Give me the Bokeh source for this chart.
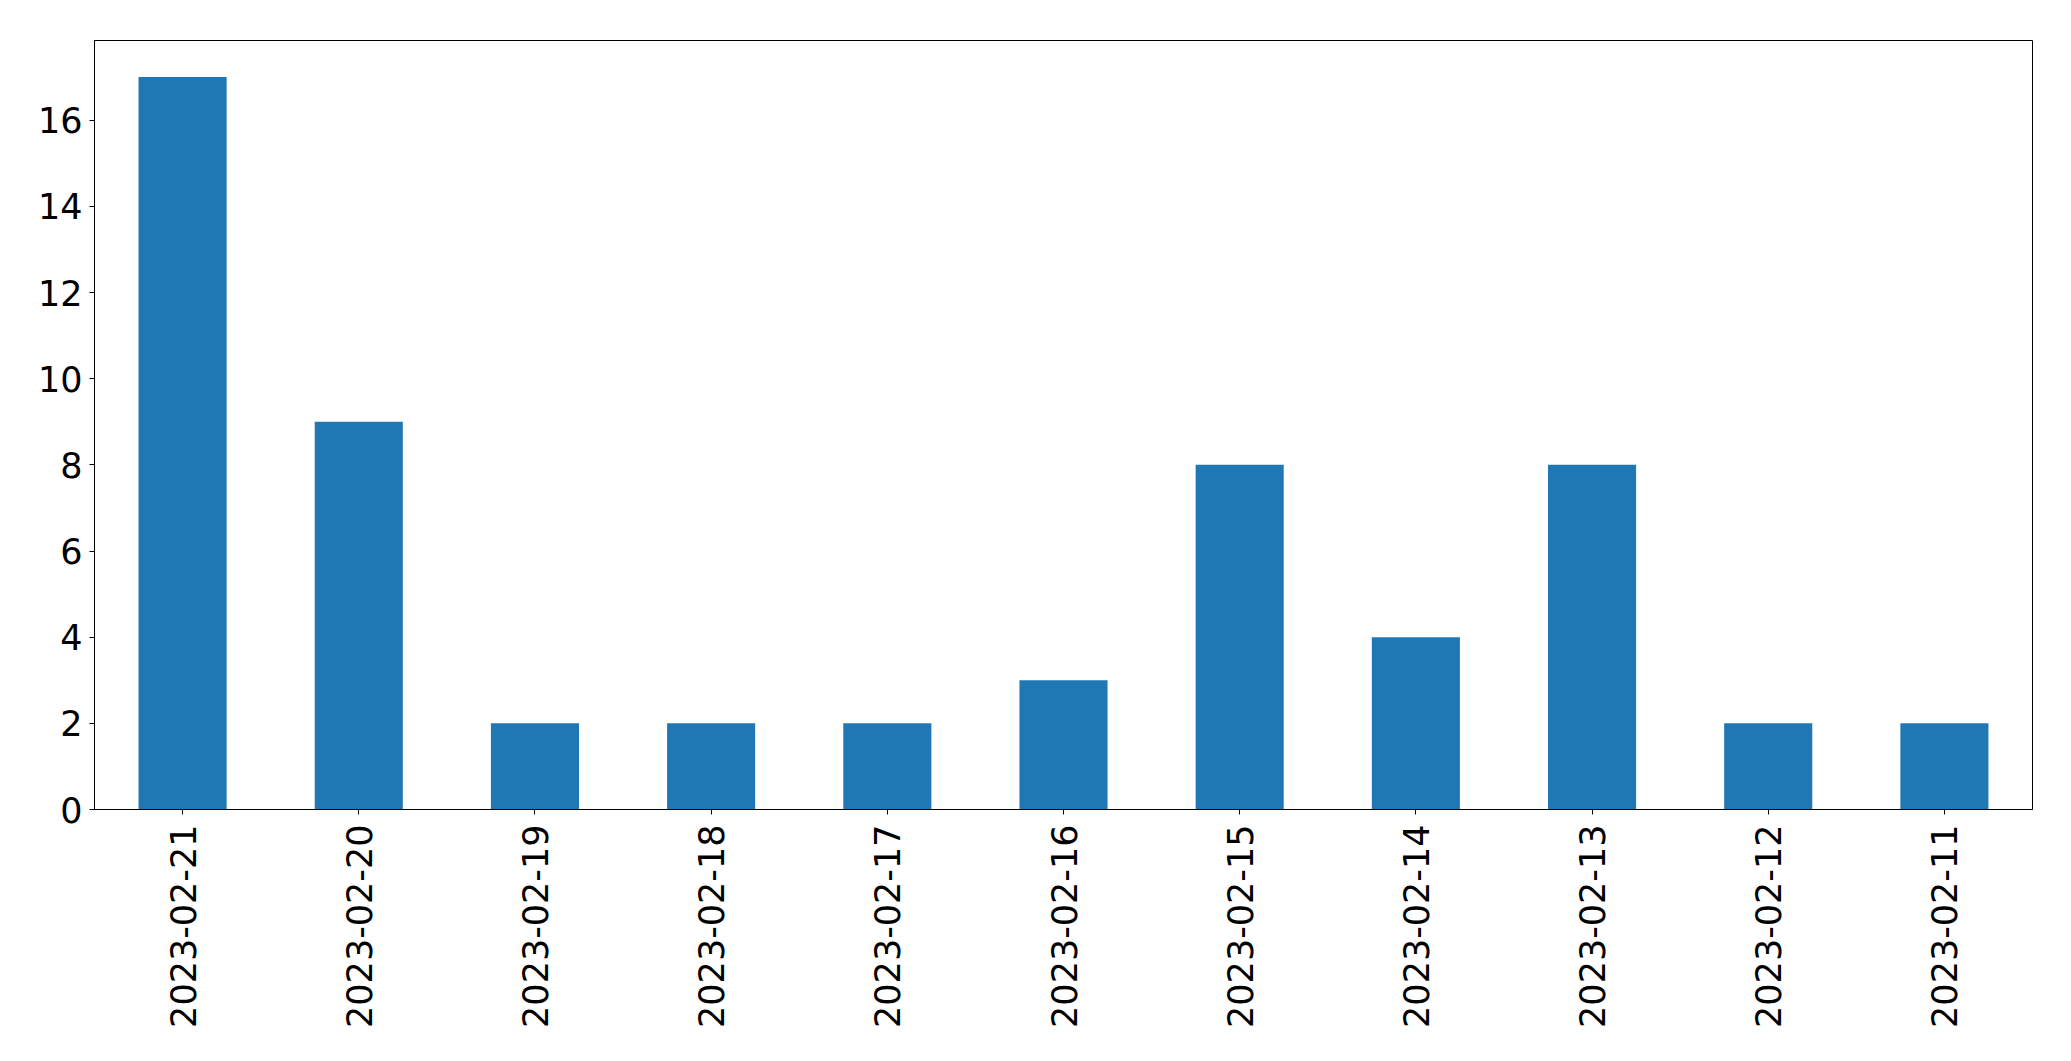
import math
from bokeh.plotting import figure
from bokeh.models import FactorRange, Range1d, SingleIntervalTicker, ColumnDataSource
from bokeh.embed import file_html
from bokeh.resources import INLINE

dates = ["2023-02-21", "2023-02-20", "2023-02-19", "2023-02-18", "2023-02-17",
         "2023-02-16", "2023-02-15", "2023-02-14", "2023-02-13", "2023-02-12",
         "2023-02-11"]
counts = [17, 9, 2, 2, 2, 3, 8, 4, 8, 2, 2]

source = ColumnDataSource(data=dict(dates=dates, counts=counts))

p = figure(width=2055, height=1045, output_backend="svg", toolbar_location=None,
           x_range=FactorRange(factors=dates), y_range=Range1d(0, max(counts) * 1.05),
           min_border_left=94, min_border_right=23, min_border_top=40, min_border_bottom=236)

p.vbar(x="dates", top="counts", width=0.5, source=source,
       fill_color="#1f77b4", line_color=None)

p.xgrid.visible = False
p.ygrid.visible = False
p.outline_line_color = "black"
p.outline_line_width = 1
p.outline_line_alpha = 1

p.yaxis.ticker = SingleIntervalTicker(interval=2)
for ax in (p.xaxis[0], p.yaxis[0]):
    ax.major_label_text_font = "DejaVu Sans"
    ax.major_label_text_font_size = "35px"
    ax.major_label_text_color = "black"
    ax.axis_line_color = "black"
    ax.major_tick_line_color = "black"
    ax.major_tick_out = 5
    ax.major_tick_in = 0
    ax.minor_tick_line_color = None
p.yaxis.major_label_standoff = 7
p.xaxis.major_label_standoff = 10
p.xaxis.major_label_orientation = math.pi / 2

open("out.html", "w").write(file_html(p, INLINE))
